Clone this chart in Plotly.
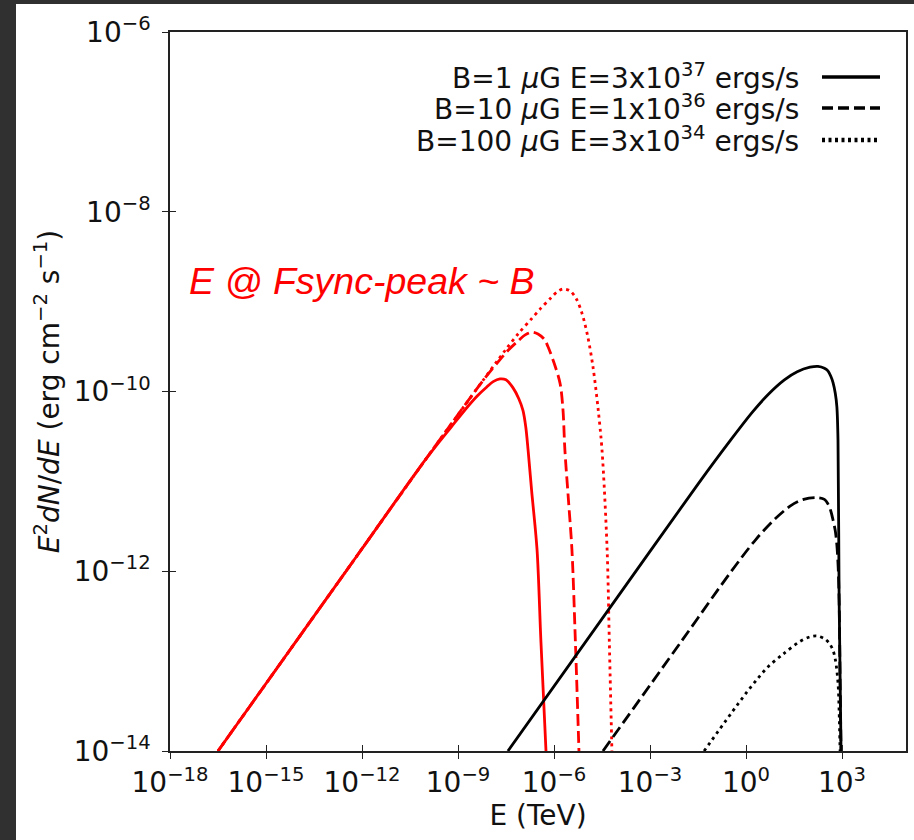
import numpy as np
import plotly.graph_objects as go

# ---- data (log10 values) ----
# synchrotron (red) curves: log10(E/TeV), log10(E^2 dN/dE)
sync_b1_logE = [-16.5, -14.0, -12.0, -10.0, -9.2, -8.7, -8.4, -8.1, -7.9, -7.69, -7.5, -7.28, -7.1, -6.97, -6.88, -6.81, -6.7, -6.53, -6.41, -6.25]
sync_b1_logF = [-14.0, -12.75, -11.75, -10.75, -10.39, -10.17, -10.05, -9.95, -9.89, -9.86, -9.87, -9.96, -10.08, -10.21, -10.4, -10.65, -11.1, -11.76, -12.77, -14.0]

sync_b10_logE = [-16.5, -13.0, -10.0, -8.2, -7.7, -7.4, -7.1, -6.9, -6.69, -6.5, -6.3, -6.19, -6.0, -5.81, -5.72, -5.66, -5.55, -5.44, -5.33, -5.22]
sync_b10_logF = [-14.0, -12.25, -10.75, -9.87, -9.65, -9.53, -9.43, -9.37, -9.34, -9.36, -9.42, -9.50, -9.68, -9.91, -10.2, -10.65, -11.2, -11.76, -12.8, -14.0]

sync_b100_logE = [-16.5, -13.0, -10.0, -8.0, -7.5, -7.1, -6.7, -6.4, -6.1, -5.9, -5.72, -5.5, -5.3, -5.125, -4.95, -4.78, -4.62, -4.5, -4.34, -4.27, -4.19]
sync_b100_logF = [-14.0, -12.25, -10.75, -9.77, -9.53, -9.35, -9.19, -9.07, -8.96, -8.89, -8.86, -8.88, -8.97, -9.13, -9.38, -9.73, -10.2, -10.65, -11.76, -12.8, -14.0]

# inverse-Compton (black) curves
ic_b1_logE = [-7.44, -4.0, -1.5, -0.5, 0.2, 0.7, 1.2, 1.6, 2.0, 2.25, 2.45, 2.56, 2.65, 2.72, 2.79, 2.84, 2.875, 2.91, 2.97]
ic_b1_logF = [-14.0, -12.28, -11.03, -10.55, -10.23, -10.03, -9.87, -9.78, -9.73, -9.72, -9.74, -9.77, -9.83, -9.90, -10.02, -10.17, -10.54, -12.3, -14.0]

ic_b10_logE = [-4.47, -2.0, -0.5, 0.3, 0.9, 1.4, 1.8, 2.2, 2.45, 2.56, 2.65, 2.72, 2.79, 2.84, 2.88, 2.91, 2.94, 2.97]
ic_b10_logF = [-14.0, -12.77, -12.02, -11.65, -11.42, -11.27, -11.2, -11.18, -11.2, -11.25, -11.33, -11.43, -11.55, -11.71, -11.95, -12.32, -13.21, -14.0]

ic_b100_logE = [-1.31, 0.125, 0.7, 1.166, 1.69, 2.0, 2.22, 2.45, 2.6, 2.72, 2.8, 2.875, 2.91, 2.94]
ic_b100_logF = [-14.0, -13.3, -13.06, -12.92, -12.78, -12.73, -12.72, -12.75, -12.8, -12.88, -13.0, -13.24, -13.55, -14.0]

legend_labels = [
    "B=1 <i>μ</i>G E=3x10<sup>37</sup> ergs/s",
    "B=10 <i>μ</i>G E=1x10<sup>36</sup> ergs/s",
    "B=100 <i>μ</i>G E=3x10<sup>34</sup> ergs/s",
]
x_tick_exps = [-18, -15, -12, -9, -6, -3, 0, 3]
y_tick_exps = [-14, -12, -10, -8, -6]

# ---- figure geometry ----
W, H = 914, 840
ML, MR, MT, MB = 170, 8, 32, 89
PW, PH = W - ML - MR, H - MT - MB


def px(x):
    return (x - ML) / PW


def py(y):
    return (H - MB - y) / PH


FONT = "DejaVu Sans"
FS = 28
LW = 2.8
DASHES = ["solid", "12px,5px", "3px,4px"]
LEG_DASHES = ["solid", "11px,5px", "3px,3.5px"]
LEG_WIDTHS = [3.5, 3.5, 4.5]

fig = go.Figure()


def add(logE, logF, color, dash, xa="x", ya="y"):
    fig.add_trace(go.Scatter(
        x=10 ** np.array(logE), y=10 ** np.array(logF), mode="lines",
        line=dict(color=color, width=LW, dash=dash, shape="spline", smoothing=0.9),
        showlegend=False, hoverinfo="skip", xaxis=xa, yaxis=ya))


add(sync_b1_logE, sync_b1_logF, "#ff0000", DASHES[0])
add(sync_b10_logE, sync_b10_logF, "#ff0000", DASHES[1])
add(sync_b100_logE, sync_b100_logF, "#ff0000", DASHES[2])
add(ic_b10_logE, ic_b10_logF, "#000000", DASHES[1])
add(ic_b100_logE, ic_b100_logF, "#000000", DASHES[2])
# the solid IC curve is bound to the overlay axes (which carry the inner half of the ticks)
add(ic_b1_logE, ic_b1_logF, "#000000", DASHES[0], "x2", "y2")

xt = [10.0 ** e for e in x_tick_exps]
yt = [10.0 ** e for e in y_tick_exps]
xtt = ["10<sup>%s</sup>" % (str(e).replace("-", "−")) for e in x_tick_exps]
ytt = ["10<sup>%s</sup>" % (str(e).replace("-", "−")) for e in y_tick_exps]

axis_common = dict(showgrid=False, zeroline=False, ticks="outside", ticklen=6,
                   tickwidth=1.3, tickcolor="#222", showline=True,
                   linecolor="#222", linewidth=1.5, mirror=True,
                   tickfont=dict(family=FONT, size=FS, color="#111"))
overlay_common = dict(ticks="inside", ticklen=6, tickwidth=1.3, tickcolor="#222",
                      showticklabels=False, showgrid=False, zeroline=False, showline=False)

fig.update_layout(
    width=W, height=H,
    margin=dict(l=ML, r=MR, t=MT, b=MB, autoexpand=False),
    paper_bgcolor="white", plot_bgcolor="white",
    xaxis=dict(type="log", range=[-18, 5], tickvals=xt, ticktext=xtt,
               title=dict(text="E (TeV)", font=dict(family=FONT, size=FS, color="#111"), standoff=6),
               **axis_common),
    yaxis=dict(type="log", range=[-14, -6], tickvals=yt, ticktext=ytt,
               ticklabelstandoff=6,
               title=dict(text="<i>E</i><sup>2</sup><i>dN</i>/<i>dE</i> (erg cm<sup>−2</sup> s<sup>−1</sup>)",
                          font=dict(family=FONT, size=FS, color="#111"), standoff=6),
               **axis_common),
    xaxis2=dict(type="log", range=[-18, 5], overlaying="x", anchor="y2", side="bottom",
                tickvals=xt, **overlay_common),
    yaxis2=dict(type="log", range=[-14, -6], overlaying="y", anchor="x2", side="left",
                tickvals=yt, **overlay_common),
    showlegend=False,
)

# red annotation
fig.add_annotation(x=px(187), y=py(281), xref="paper", yref="paper", xanchor="left",
                   yanchor="middle", showarrow=False, text="E @ Fsync-peak ~ B",
                   font=dict(family="Liberation Sans", size=37.5, color="#ff0000", style="italic"))

# legend (text right, line sample at the right, like the reference)
rows_y = [76, 107, 139]
for lab, ry, dash, lw in zip(legend_labels, rows_y, LEG_DASHES, LEG_WIDTHS):
    fig.add_annotation(x=px(801), y=py(ry), xref="paper", yref="paper", xanchor="right",
                       yanchor="middle", showarrow=False, text=lab,
                       font=dict(family=FONT, size=FS, color="#111"))
    fig.add_shape(type="line", xref="paper", yref="paper", x0=px(822), x1=px(880),
                  y0=py(ry + 1), y1=py(ry + 1),
                  line=dict(color="black", width=lw, dash=dash))

# dark frame bands (top and left)
DARK = "#303030"
fig.add_shape(type="rect", xref="paper", yref="paper", x0=px(0), x1=px(16), y0=py(H), y1=py(0),
              fillcolor=DARK, line=dict(width=0), layer="above")
fig.add_shape(type="rect", xref="paper", yref="paper", x0=px(0), x1=px(W), y0=py(4), y1=py(0),
              fillcolor=DARK, line=dict(width=0), layer="above")

fig.write_html("out.html")
